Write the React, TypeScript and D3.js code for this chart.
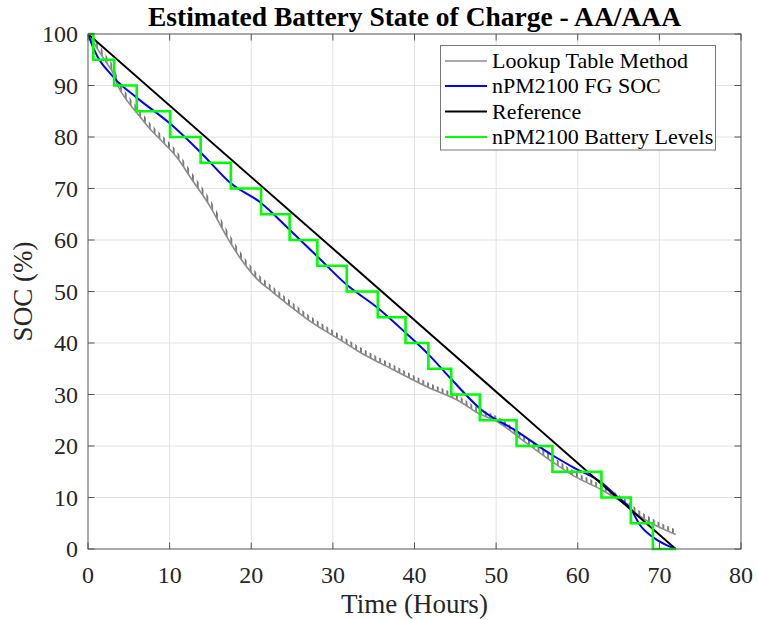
import React from "react";
import * as d3 from "d3";

const W = 757;
const H = 620;

const titleText = "Estimated Battery State of Charge - AA/AAA";
const xLabel = "Time (Hours)";
const yLabel = "SOC (%)";

const xTickValues = [0, 10, 20, 30, 40, 50, 60, 70, 80];
const yTickValues = [0, 10, 20, 30, 40, 50, 60, 70, 80, 90, 100];

// Lookup Table Method (gray)
const lookupTime = [0, 1, 2.1, 3.1, 3.7, 4.5, 5.4, 6.4, 7.4, 8.8, 10.9, 12.7, 15, 16.8, 18.6, 20.6, 22.7, 24.8, 26.8, 28.9, 30.9, 33.1, 37.4, 41.5, 45.6, 48, 49.7, 53.7, 57, 59.5, 62.9, 65.6, 67.6, 72];
const lookupSoc = [100, 97.5, 94.8, 92.3, 89.8, 87.7, 85.8, 83.9, 81.9, 79.6, 76, 71.8, 66.4, 61.2, 56.6, 52.6, 49.8, 47.1, 44.7, 42.5, 40.6, 38.4, 34.8, 31.5, 28.6, 26.2, 25.1, 20.6, 16.8, 14.2, 11.5, 8.9, 6.4, 2.8];

// nPM2100 FG SOC (blue)
const fgTime = [0, 0.65, 3.2, 6, 10.05, 13.8, 17.5, 21.2, 24.7, 28.1, 31.7, 35.5, 38.9, 41.7, 44.5, 48, 52.5, 56.9, 59.5, 62.9, 64.8, 66.5, 67.6, 69.2, 70.8, 72];
const fgSoc = [100, 97.3, 91.5, 87.6, 82.6, 77, 71, 67.2, 62, 56.8, 51.3, 46.8, 42, 37.8, 33, 27.3, 22.9, 18.2, 15.8, 12.9, 10.2, 7.8, 4.7, 2.3, 0.8, 0];

// Reference (black)
const refTime = [0, 72];
const refSoc = [100, 0];

// nPM2100 Battery Levels (green, step)
const levelTime = [0, 0.65, 3.2, 5.97, 10.05, 13.8, 17.5, 21.2, 24.7, 28.1, 31.7, 35.5, 38.9, 41.7, 44.5, 48.0, 52.5, 56.9, 62.9, 66.5, 69.2, 72];
const levelSoc = [100, 95, 90, 85, 80, 75, 70, 65, 60, 55, 50, 45, 40, 35, 30, 25, 20, 15, 10, 5, 0, 0];

const legendNames = ["Lookup Table Method", "nPM2100 FG SOC", "Reference", "nPM2100 Battery Levels"];
const legendColors = ["#8c8c8c", "#0000ff", "#000000", "#00ff00"];

const FONT = "'Liberation Serif', 'Times New Roman', serif";

export default function App() {
  const left = 88, right = 741, top = 34, bottom = 549;
  const x = d3.scaleLinear().domain([0, 80]).range([left, right]);
  const y = d3.scaleLinear().domain([0, 100]).range([bottom, top]);

  type P = [number, number];
  const zip = (a: number[], b: number[]): P[] => a.map((t, i) => [t, b[i]]);

  const line = d3.line<P>().x(d => x(d[0])).y(d => y(d[1]));
  const smooth = d3.line<P>().x(d => x(d[0])).y(d => y(d[1])).curve(d3.curveMonotoneX);
  const step = d3.line<P>().x(d => x(d[0])).y(d => y(d[1])).curve(d3.curveStepAfter);

  const lookupPts = zip(lookupTime, lookupSoc);
  const fgPts = zip(fgTime, fgSoc);
  const refPts = zip(refTime, refSoc);
  const levelPts = zip(levelTime, levelSoc);

  // teeth band height depends on local pixel slope (pure styling)
  const teethPts = lookupPts.slice(1);
  const bandH = (i: number) => {
    const a = teethPts[Math.max(0, i - 1)];
    const b = teethPts[Math.min(teethPts.length - 1, i + 1)];
    const s = Math.abs((y(b[1]) - y(a[1])) / ((x(b[0]) - x(a[0])) || 1));
    return Math.max(5, Math.min(8.5, 4 + 2 * s));
  };
  const teethArea = d3
    .area<P>()
    .x(d => x(d[0]))
    .y0(d => y(d[1]))
    .y1((d, i) => y(d[1]) - bandH(i))
    .curve(d3.curveMonotoneX);

  const tickLen = 6.5;
  const axisColor = "#555555";
  const gridColor = "#e3e3e3";

  const legX = 440.5, legY = 45.5, legW = 275, legH = 104.5;
  const rowY = [61, 86, 111.5, 137];

  return (
    <svg width={W} height={H} style={{ position: "absolute", left: 0, top: 0, background: "#fff" }} fontFamily={FONT}>
      <defs>
        <pattern id="teeth" width={4.8} height={20} patternUnits="userSpaceOnUse">
          <rect x={0} y={0} width={1.8} height={20} fill="#727272" />
        </pattern>
        <clipPath id="plotClip">
          <rect x={left} y={top - 4} width={right - left} height={bottom - top + 8} />
        </clipPath>
      </defs>
      <rect x={0} y={0} width={W} height={H} fill="#fff" />
      {/* grid */}
      {xTickValues.slice(1, -1).map(v => (
        <line key={"gx" + v} x1={x(v)} x2={x(v)} y1={top} y2={bottom} stroke={gridColor} strokeWidth={1} />
      ))}
      {yTickValues.slice(1, -1).map(v => (
        <line key={"gy" + v} x1={left} x2={right} y1={y(v)} y2={y(v)} stroke={gridColor} strokeWidth={1} />
      ))}
      {/* series */}
      <g clipPath="url(#plotClip)">
        <path d={teethArea(teethPts) || ""} fill="url(#teeth)" />
        <path d={smooth(lookupPts) || ""} fill="none" stroke="#8c8c8c" strokeWidth={1.6} />
        <path d={smooth(fgPts) || ""} fill="none" stroke="#0000ff" strokeWidth={2} />
        <path d={line(refPts) || ""} fill="none" stroke="#000000" strokeWidth={2} />
        <path d={step(levelPts) || ""} fill="none" stroke="#00ff00" strokeWidth={2.6} />
      </g>
      {/* axes box */}
      <rect x={left} y={top} width={right - left} height={bottom - top} fill="none" stroke={axisColor} strokeWidth={1} />
      {xTickValues.map(v => (
        <g key={"xt" + v}>
          <line x1={x(v)} x2={x(v)} y1={bottom} y2={bottom - tickLen} stroke={axisColor} />
          <line x1={x(v)} x2={x(v)} y1={top} y2={top + tickLen} stroke={axisColor} />
          <text x={x(v)} y={bottom + 34} textAnchor="middle" fontSize={24} fill="#262626">{v}</text>
        </g>
      ))}
      {yTickValues.map(v => (
        <g key={"yt" + v}>
          <line x1={left} x2={left + tickLen} y1={y(v)} y2={y(v)} stroke={axisColor} />
          <line x1={right} x2={right - tickLen} y1={y(v)} y2={y(v)} stroke={axisColor} />
          <text x={left - 10} y={y(v) + 8} textAnchor="end" fontSize={24} fill="#262626">{v}</text>
        </g>
      ))}
      {/* labels */}
      <text x={(left + right) / 2} y={26} textAnchor="middle" fontSize={27.5} fontWeight="bold" fill="#000">{titleText}</text>
      <text x={(left + right) / 2} y={613} textAnchor="middle" fontSize={27} fill="#262626">{xLabel}</text>
      <text transform={`translate(32, ${(top + bottom) / 2}) rotate(-90)`} textAnchor="middle" fontSize={27} fill="#262626">{yLabel}</text>
      {/* legend */}
      <rect x={legX} y={legY} width={legW} height={legH} fill="#fff" stroke="#777" strokeWidth={1} />
      {legendNames.map((n, i) => (
        <g key={n}>
          <line x1={445} x2={487} y1={rowY[i]} y2={rowY[i]} stroke={legendColors[i]} strokeWidth={i === 0 ? 1.6 : 2} />
          <text x={492} y={rowY[i] + 7} fontSize={22} fill="#000">{n}</text>
        </g>
      ))}
    </svg>
  );
}
